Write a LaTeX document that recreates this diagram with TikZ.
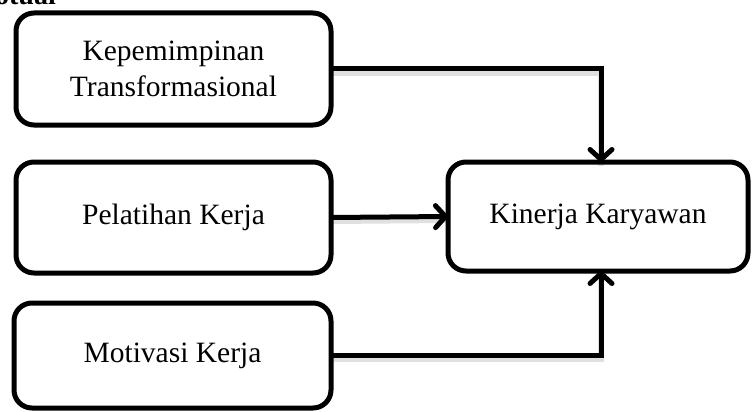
\documentclass[tikz,border=0pt]{standalone}
\usepackage{fontspec}
\setmainfont{Liberation Serif}
\usetikzlibrary{arrows.meta}
\begin{document}
\begin{tikzpicture}[x=1pt,y=-1pt,
  box/.style={draw,line width=5pt,rounded corners=18pt,align=center,
    font=\fontsize{29.5}{36}\selectfont,inner sep=0pt,outer sep=0pt},
  conn/.style={line width=5pt,
    -{Straight Barb[length=10pt,width=22pt,line cap=round,line join=round]}},
  shade/.style={line width=6pt,black,opacity=0.12,transform canvas={yshift=-3.5pt}},
  heading/.style={font=\fontsize{28}{34}\selectfont\bfseries,inner sep=0pt}
]
\useasboundingbox (0,0) rectangle (752,412);
\clip (0,0) rectangle (752,412);

\node[heading,anchor=base east] (title) at (56,5) {otual};

\node[box,minimum width=315pt,minimum height=112pt] (b1) at (173.5,69)
  {Kepemimpinan\\Transformasional};
\node[box,minimum width=315pt,minimum height=111pt] (b2) at (173.5,217.5)
  {Pelatihan Kerja};
\node[box,minimum width=317pt,minimum height=105pt] (b3) at (172.5,355.5)
  {Motivasi Kerja};
\node[box,minimum width=300pt,minimum height=109pt] (k) at (598,216.5)
  {Kinerja Karyawan};

\coordinate (kt) at ([xshift=3pt]k.north);
\coordinate (kb) at ([xshift=3pt]k.south);

\draw[shade] (b1.east) -| (kt);
\draw[shade] (b2.east) -- (k.west);
\draw[shade] (b3.east) -| (kb);

\draw[conn] (b1.east) -| (kt);
\draw[conn] (b2.east) -- (k.west);
\draw[conn] (b3.east) -| (kb);
\end{tikzpicture}
\end{document}
